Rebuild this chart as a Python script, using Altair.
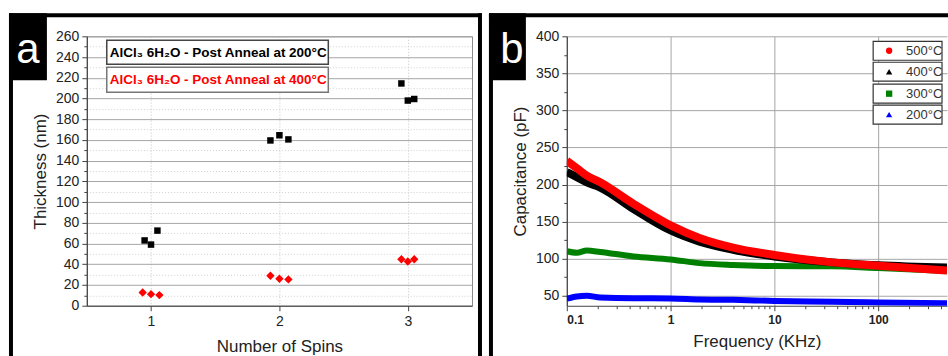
import altair as alt
import pandas as pd

# ---------------- Panel a data ----------------
spins_200 = [0.95, 1.0, 1.05, 1.93, 2.0, 2.07, 2.95, 3.0, 3.05]
thick_200 = [63, 59, 72.5, 159.5, 164.5, 160.5, 214.5, 198, 199.5]
spins_400 = [0.935, 1.0, 1.065, 1.93, 2.0, 2.07, 2.95, 3.0, 3.05]
thick_400 = [12.8, 11.2, 10.3, 28.9, 26, 25.4, 44.9, 42.7, 44.9]
legend_a = ["AlCl\u2083 6H\u2082O - Post Anneal at 200\u00b0C",
            "AlCl\u2083 6H\u2082O - Post Anneal at 400\u00b0C"]
x_ticks_a = [1, 2, 3]
y_ticks_a = list(range(0, 261, 10))

# ---------------- Panel b data ----------------
freq = [0.1, 0.125, 0.156, 0.21, 0.44, 1, 1.9, 4, 10, 36, 100, 460]
cap_500 = [232, 222, 212, 203, 174, 145, 128, 115, 105, 95, 90.5, 84]
cap_400 = [217, 210, 203, 196, 167, 138, 123, 112, 103, 95, 91, 88]
cap_300 = [110, 108, 111, 109, 103, 99, 94, 91.5, 90, 89.6, 87.4, 83.5]
cap_200 = [46, 49, 50, 47.5, 46.5, 46.4, 45, 44.5, 43, 42, 41, 40]
legend_b = ["500\u00b0C", "400\u00b0C", "300\u00b0C", "200\u00b0C"]
x_major_b = [0.1, 1, 10, 100]
x_ticks_b = [0.1, 0.2, 0.3, 0.4, 0.5, 0.6, 0.7, 0.8, 0.9,
             1, 2, 3, 4, 5, 6, 7, 8, 9,
             10, 20, 30, 40, 50, 60, 70, 80, 90,
             100, 200, 300, 400]
y_ticks_b = list(range(50, 401, 25))

FONT = "Liberation Sans"
one = pd.DataFrame({"k": [0]})


def box(x, x2, y, y2, fill="black", stroke=None, sw=0):
    kw = dict(fill=fill, strokeWidth=sw)
    if stroke:
        kw["stroke"] = stroke
    return alt.Chart(one).mark_rect(**kw).encode(
        x=alt.value(x), x2=alt.value(x2), y=alt.value(y), y2=alt.value(y2))


def label(txt, x, y, size, color="black", weight="normal", align="left", baseline="middle"):
    return alt.Chart(one).mark_text(
        text=txt, fontSize=size, color=color, fontWeight=weight, align=align,
        baseline=baseline, font=FONT).encode(x=alt.value(x), y=alt.value(y))


# ---------------- Panel a ----------------
df_a200 = pd.DataFrame({"Spins": spins_200, "Thickness": thick_200})
df_a400 = pd.DataFrame({"Spins": spins_400, "Thickness": thick_400})

xa = alt.X("Spins:Q", scale=alt.Scale(domain=[0.5, 3.5], nice=False, zero=False),
           axis=alt.Axis(values=x_ticks_a, title="Number of Spins", format="d",
                         gridDash=[1, 2], gridColor="#c4c4c4", tickSize=5,
                         labelPadding=4, titlePadding=10))
ya = alt.Y("Thickness:Q", scale=alt.Scale(domain=[0, 260], nice=False),
           axis=alt.Axis(values=y_ticks_a, title="Thickness (nm)",
                         labelExpr="datum.value % 20 == 0 ? datum.label : ''",
                         gridColor={"condition": {"test": "datum.value % 20 == 0", "value": "#a6a6a6"},
                                    "value": "#cfcfcf"},
                         gridDash={"condition": {"test": "datum.value % 20 == 0", "value": []},
                                   "value": [1, 2]},
                         tickSize={"condition": {"test": "datum.value % 20 == 0", "value": 5},
                                   "value": 3},
                         labelPadding=3, titlePadding=6))

pts200 = alt.Chart(df_a200).mark_point(shape="square", filled=True, size=42,
                                        color="black", opacity=1).encode(x=xa, y=ya)
pts400 = alt.Chart(df_a400).mark_point(shape="diamond", filled=True, size=70,
                                        color="#ff0000", opacity=1).encode(x=xa, y=ya)

leg_a = [
    box(20, 242, 4, 28, fill="white", stroke="#444", sw=1.5),
    box(20, 242, 31, 56, fill="white", stroke="#777", sw=1.5),
    label(legend_a[0], 23, 16.5, 13.5, color="black", weight="bold"),
    label(legend_a[1], 23, 43.5, 13.5, color="#ff0000", weight="bold"),
]
frame_a = [
    box(-78, 396, -23, -19),
    box(-78, -74, -23, 321),
    box(392, 396, -23, 321),
    box(-78, -40, -23, 44),
    label("a", -59, 27, 42, color="white", align="center", baseline="alphabetic"),
]

panel_a = alt.layer(pts200, pts400, *leg_a, *frame_a).properties(
    width=386, height=270, view=alt.ViewBackground(stroke="#8a8a8a", strokeWidth=1))

# ---------------- Panel b ----------------
df_b = pd.DataFrame({
    "freq": freq * 4,
    "cap": cap_200 + cap_300 + cap_400 + cap_500,
    "series": ["200"] * len(freq) + ["300"] * len(freq) + ["400"] * len(freq) + ["500"] * len(freq),
})

is_major = "indexof([0.1, 1, 10, 100], datum.value) >= 0"
xb = alt.X("freq:Q", scale=alt.Scale(type="log", domain=[0.1, 460], nice=False),
           axis=alt.Axis(values=x_ticks_b, title="Frequency (KHz)",
                         labelExpr=is_major + " ? format(datum.value, '~g') : ''",
                         labelFontSize=12, labelFontWeight="bold",
                         gridOpacity={"condition": {"test": is_major, "value": 1}, "value": 0},
                         tickSize={"condition": {"test": is_major, "value": 5}, "value": 3},
                         gridColor="#a6a6a6", labelPadding=4, titlePadding=8))
yb = alt.Y("cap:Q", scale=alt.Scale(domain=[36.5, 400], nice=False, zero=False),
           axis=alt.Axis(values=y_ticks_b, title="Capacitance (pF)",
                         labelExpr="datum.value % 50 == 0 ? datum.label : ''",
                         gridOpacity={"condition": {"test": "datum.value % 50 == 0", "value": 1},
                                      "value": 0},
                         tickSize={"condition": {"test": "datum.value % 50 == 0", "value": 5},
                                   "value": 3},
                         gridColor="#a6a6a6", labelPadding=3, titlePadding=6))

colors = {"200": "#0000ff", "300": "#008000", "400": "#000000", "500": "#ff0000"}
widths = {"200": 6, "300": 6, "400": 8, "500": 8}
lines = []
for s in ["200", "300", "400", "500"]:
    lines.append(
        alt.Chart(df_b).transform_filter(alt.datum.series == s)
        .mark_line(color=colors[s], strokeWidth=widths[s], clip=True, interpolate="monotone")
        .encode(x=xb, y=yb))

leg_b = []
sym = [("circle", "#ff0000"), ("triangle-up", "#000000"), ("square", "#008000"), ("triangle-up", "#0000ff")]
tops = [5, 26, 48, 69]
for i, (shape, col) in enumerate(sym):
    t = tops[i]
    leg_b.append(box(307, 376, t, t + 19, fill="white", stroke="#333", sw=1.2))
    leg_b.append(alt.Chart(one).mark_point(shape=shape, filled=True, size=40, color=col, opacity=1)
                 .encode(x=alt.value(323), y=alt.value(t + 9.5)))
    leg_b.append(label(legend_b[i], 340, t + 10, 13, color="#333"))

frame_b = [
    box(-78, 382, -23, -19),
    box(-78, -74, -23, 321),
    box(-78, -41, -23, 44),
    label("b", -55, 27, 42, color="white", align="center", baseline="alphabetic"),
]

panel_b = alt.layer(*lines, *leg_b, *frame_b).properties(
    width=381, height=270, view=alt.ViewBackground(stroke=None))

chart = alt.hconcat(panel_a, panel_b, spacing=6).properties(
    padding={"left": 8, "top": 12, "right": 0, "bottom": 0},
    background="white",
).configure(font=FONT).configure_axis(
    labelFont=FONT, titleFont=FONT, labelFontSize=14, titleFontSize=17,
    titleFontWeight="normal", labelColor="#222", titleColor="#222",
    domainColor="#444", tickColor="#444", domainWidth=1.2,
)

chart.save("out.html", embed_options={"renderer": "svg", "actions": False})
